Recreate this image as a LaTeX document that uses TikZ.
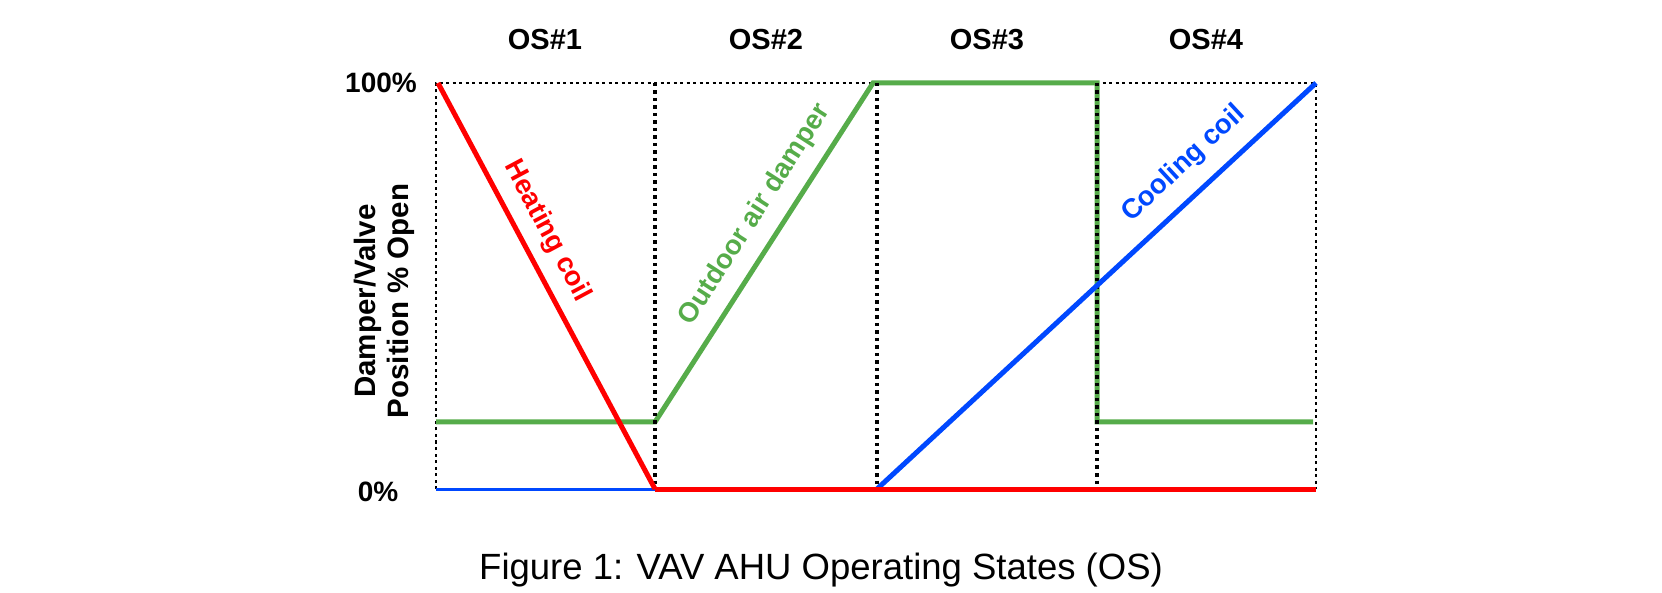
\documentclass[tikz,border=0pt]{standalone}
\usepackage{fontspec}
\setmainfont{Liberation Sans}
\definecolor{heatred}{RGB}{255,0,0}
\definecolor{oagreen}{RGB}{86,172,74}
\definecolor{coolblue}{RGB}{0,72,255}
\tikzset{
  thinborder/.style={black, line width=1.6pt, dash pattern=on 3pt off 3.5pt},
  divider/.style={black, line width=4pt, dash pattern=on 3.5pt off 4pt},
  curve/.style={line width=5pt, line join=miter},
  oslabel/.style={font=\bfseries\fontsize{29}{34}\selectfont, inner sep=0pt},
  ticklabel/.style={font=\bfseries\fontsize{28}{32}\selectfont, inner sep=0pt},
  axislabel/.style={font=\bfseries\fontsize{29.5}{33}\selectfont, inner sep=0pt},
  curvelabel/.style={font=\bfseries\fontsize{27.5}{32}\selectfont, inner sep=0pt},
}
\begin{document}
\begin{tikzpicture}[x=1pt,y=1pt]
\useasboundingbox (0,0) rectangle (1662,592);
% frame coordinates
\coordinate (TL) at (436,509);
\coordinate (TR) at (1316,509);
\coordinate (BL) at (436,103);
\coordinate (BR) at (1316,103);
\coordinate (D1t) at (655,509);
\coordinate (D1b) at (655,103);
\coordinate (D2t) at (877,509);
\coordinate (D2b) at (877,103);
\coordinate (D3t) at (1097,509);
\coordinate (D3b) at (1097,103);
% thin dotted borders
\draw[thinborder] (BL) -- (TL) -- (TR) -- (BR);
% outdoor air damper
\coordinate (G0) at (436,170);
\coordinate (G1) at (655,170);
\coordinate (G2) at (873,509);
\coordinate (G3) at (1097,509);
\coordinate (G4) at (1097,170);
\coordinate (G5) at (1313,170);
\draw[curve, oagreen] (G0) -- (G1) -- (G2) -- (G3) -- (G4) -- (G5);
% dividers
\draw[divider] (D1t) -- (D1b);
\draw[divider] (D2t) -- (D2b);
\draw[divider] (D3t) -- (D3b);
% cooling coil
\draw[coolblue, line width=3pt] (BL) -- (D2b);
\coordinate (C1) at (1316,509);
\draw[curve, coolblue] (D2b) -- (C1);
% heating coil
\coordinate (H0) at (438,509);
\draw[curve, heatred] (H0) -- (D1b);
\draw[heatred, line width=5pt] (D1b) -- (BR);
% labels
\node[oslabel] (os1) at (545,552) {OS\#1};
\node[oslabel] (os2) at (766,552) {OS\#2};
\node[oslabel] (os3) at (987,552) {OS\#3};
\node[oslabel] (os4) at (1206,552) {OS\#4};
\node[ticklabel, anchor=east] (p100) at (417,509) {100\%};
\node[ticklabel] (p0) at (378,100) {0\%};
\node[axislabel, rotate=90, align=center] (ylab) at (384,291) {Damper/Valve\\Position \% Open};
\node[curvelabel, heatred, rotate=-61.9] (hlab) at (547,361) {Heating coil};
\node[curvelabel, oagreen, rotate=57.3] (glab) at (755,377) {Outdoor air damper};
\node[curvelabel, coolblue, rotate=42.8] (blab) at (1184,428) {Cooling coil};
\node[font=\fontsize{36.5}{40}\selectfont, inner sep=0pt, anchor=base west] (cap) at (479,13) {Figure 1: VAV AHU Operating States (OS)};
\end{tikzpicture}
\end{document}
